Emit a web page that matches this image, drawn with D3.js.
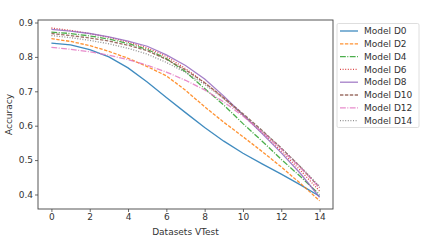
<!DOCTYPE html>
<html>
<head>
<meta charset="utf-8">
<script src="https://cdn.jsdelivr.net/npm/d3@7"></script>
<style>
  body { margin: 0; background: #fff; }
  text { font-family: "DejaVu Sans", sans-serif; }
</style>
</head>
<body>
<div id="chart"></div>
<script>
// test sets 0..14
var xs = [0, 1, 2, 3, 4, 5, 6, 7, 8, 9, 10, 11, 12, 13, 14];

var modelNames = ["Model D0", "Model D2", "Model D4", "Model D6", "Model D8", "Model D10", "Model D12", "Model D14"];

var accD0  = [0.840, 0.835, 0.821, 0.800, 0.768, 0.727, 0.682, 0.638, 0.595, 0.555, 0.520, 0.489, 0.459, 0.428, 0.395];
var accD2  = [0.853, 0.845, 0.833, 0.816, 0.796, 0.772, 0.745, 0.703, 0.655, 0.610, 0.568, 0.525, 0.480, 0.432, 0.382];
var accD4  = [0.872, 0.868, 0.861, 0.852, 0.839, 0.822, 0.795, 0.757, 0.708, 0.660, 0.606, 0.555, 0.502, 0.452, 0.400];
var accD6  = [0.884, 0.877, 0.868, 0.857, 0.843, 0.826, 0.801, 0.766, 0.725, 0.680, 0.630, 0.580, 0.526, 0.470, 0.410];
var accD8  = [0.880, 0.875, 0.868, 0.858, 0.846, 0.831, 0.806, 0.775, 0.736, 0.686, 0.632, 0.577, 0.521, 0.461, 0.392];
var accD10 = [0.868, 0.862, 0.855, 0.846, 0.834, 0.818, 0.793, 0.762, 0.725, 0.681, 0.635, 0.586, 0.535, 0.480, 0.420];
var accD12 = [0.828, 0.822, 0.815, 0.805, 0.792, 0.776, 0.756, 0.732, 0.704, 0.669, 0.628, 0.582, 0.532, 0.478, 0.420];
var accD14 = [0.862, 0.856, 0.848, 0.838, 0.825, 0.808, 0.784, 0.755, 0.720, 0.678, 0.632, 0.585, 0.535, 0.481, 0.424];

var xTicks = [0, 2, 4, 6, 8, 10, 12, 14];
var yTicks = [0.4, 0.5, 0.6, 0.7, 0.8, 0.9];

var allSeries = [accD0, accD2, accD4, accD6, accD8, accD10, accD12, accD14];
var colors = ["#1f77b4", "#ff7f0e", "#2ca02c", "#d62728", "#9467bd", "#8c564b", "#e377c2", "#7f7f7f"];
var dashes = ["none", "3.4,1.5", "5.8,1.5,1,1.5", "1,1.6", "none", "3.4,1.5", "5.8,1.5,1,1.5", "1,1.6"];

var W = 422, H = 243;
var plot = { left: 38, right: 333, top: 20, bottom: 209 };

var svg = d3.select("#chart")
  .append("svg")
  .attr("width", W)
  .attr("height", H);

var x = d3.scaleLinear().domain([-0.7, 14.7]).range([plot.left, plot.right]);
var y = d3.scaleLinear().domain([0.3578, 0.9073]).range([plot.bottom, plot.top]);

// lines
var line = d3.line()
  .x(function(d, i) { return x(xs[i]); })
  .y(function(d) { return y(d); });

svg.append("g")
  .selectAll("path")
  .data(allSeries)
  .enter()
  .append("path")
  .attr("d", line)
  .attr("fill", "none")
  .attr("stroke", function(d, i) { return colors[i]; })
  .attr("stroke-width", 1.3)
  .attr("stroke-opacity", 0.85)
  .attr("stroke-dasharray", function(d, i) { return dashes[i]; });

// frame
svg.append("rect")
  .attr("x", plot.left)
  .attr("y", plot.top)
  .attr("width", plot.right - plot.left)
  .attr("height", plot.bottom - plot.top)
  .attr("fill", "none")
  .attr("stroke", "#444")
  .attr("stroke-width", 0.9);

// axes
var xAxis = svg.append("g")
  .attr("transform", "translate(0," + plot.bottom + ")")
  .call(d3.axisBottom(x).tickValues(xTicks).tickSize(3).tickPadding(2));

var yAxis = svg.append("g")
  .attr("transform", "translate(" + plot.left + ",0)")
  .call(d3.axisLeft(y).tickValues(yTicks).tickFormat(d3.format(".1f")).tickSize(3).tickPadding(2));

[xAxis, yAxis].forEach(function(a) {
  a.select(".domain").remove();
  a.selectAll(".tick line").attr("stroke", "#444").attr("stroke-width", 0.8);
  a.selectAll(".tick text")
    .attr("fill", "#333")
    .style("font-size", "9px")
    .style("font-family", "DejaVu Sans, sans-serif");
});

// axis titles
svg.append("text")
  .attr("x", (plot.left + plot.right) / 2)
  .attr("y", 235)
  .attr("text-anchor", "middle")
  .attr("fill", "#333")
  .style("font-size", "9px")
  .text("Datasets VTest");

svg.append("text")
  .attr("transform", "translate(12," + ((plot.top + plot.bottom) / 2) + ") rotate(-90)")
  .attr("text-anchor", "middle")
  .attr("fill", "#333")
  .style("font-size", "9px")
  .text("Accuracy");

// legend
var legend = svg.append("g");
legend.append("rect")
  .attr("x", 337)
  .attr("y", 23.5)
  .attr("width", 82)
  .attr("height", 104)
  .attr("rx", 1.5)
  .attr("fill", "#fff")
  .attr("stroke", "#d6d6d6")
  .attr("stroke-width", 0.8);

var entries = legend.selectAll("g.entry")
  .data(modelNames)
  .enter()
  .append("g")
  .attr("class", "entry")
  .attr("transform", function(d, i) { return "translate(0," + (31 + i * 12.8) + ")"; });

entries.append("line")
  .attr("x1", 340)
  .attr("x2", 358)
  .attr("stroke", function(d, i) { return colors[i]; })
  .attr("stroke-width", 1.3)
  .attr("stroke-opacity", 0.85)
  .attr("stroke-dasharray", function(d, i) { return dashes[i]; });

entries.append("text")
  .attr("x", 364)
  .attr("dy", "0.35em")
  .attr("fill", "#333")
  .style("font-size", "9px")
  .text(function(d) { return d; });
</script>
</body>
</html>
